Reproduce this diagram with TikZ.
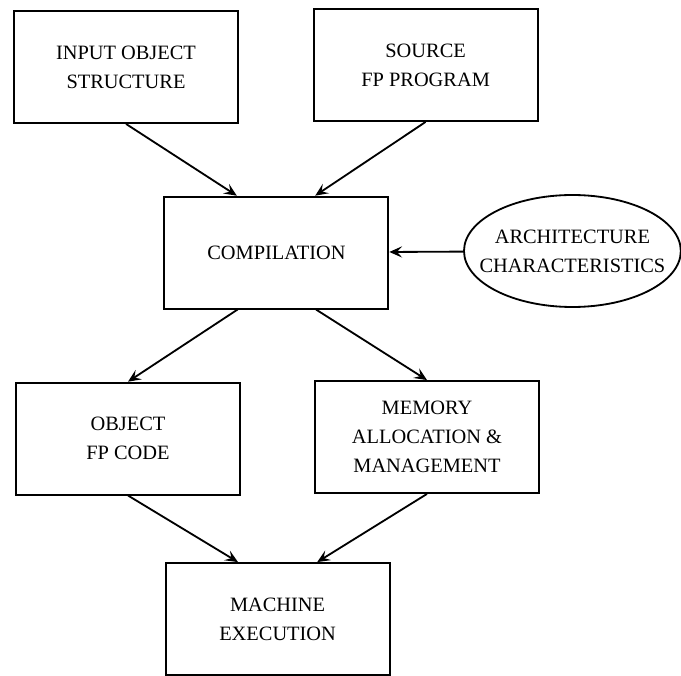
\documentclass[tikz,border=0pt]{standalone}
\usepackage{fontspec}
\setmainfont{Liberation Serif}
\usetikzlibrary{arrows.meta,shapes.geometric}

\begin{document}
\begin{tikzpicture}[font=\fontsize{14.5}{20.5}\selectfont, line width=1.3pt]

      \useasboundingbox (0,0) rectangle (17.025,16.875);

      \begin{scope}[every node/.style={rectangle,draw,align=center,inner sep=0pt,
                                       minimum width=5.6cm,minimum height=2.8cm}]
        \node (1) at (3.15,15.2)  {INPUT OBJECT\\STRUCTURE};
        \node (2) at (10.64,15.25) {SOURCE\\FP PROGRAM};
        \node (3) at (6.91,10.56) {COMPILATION};
        \node (5) at (3.2,5.91)   {OBJECT\\FP CODE};
        \node (6) at (10.675,5.95) {MEMORY\\ALLOCATION \&\\MANAGEMENT};
        \node (7) at (6.94,1.4)   {MACHINE\\EXECUTION};
      \end{scope}

      \node[ellipse,draw,align=center,inner xsep=-0.5cm,inner ysep=0pt,
            minimum width=5.42cm,minimum height=2.8cm] (4) at (14.31,10.6)
            {ARCHITECTURE\\CHARACTERISTICS};

      \begin{scope}[every edge/.style={draw,-{Stealth[length=3.2mm,width=2.8mm,inset=1.3mm]}}]
        \path (1.south) edge ([xshift=-0.99cm]3.north);
        \path (2.south) edge ([xshift=0.97cm]3.north);
        \path (4)       edge (3);
        \path ([xshift=-0.97cm]3.south) edge (5.north);
        \path ([xshift=0.99cm]3.south)  edge (6.north);
        \path (5.south) edge ([xshift=-0.99cm]7.north);
        \path (6.south) edge ([xshift=0.99cm]7.north);
      \end{scope}

    \end{tikzpicture}
\end{document}
